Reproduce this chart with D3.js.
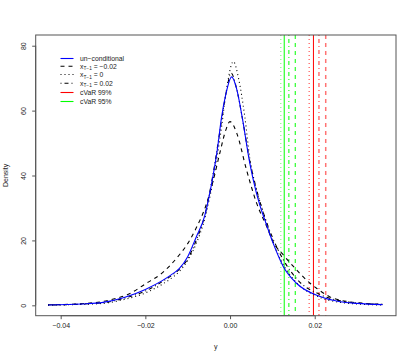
<!DOCTYPE html>
<html>
<head>
<meta charset="utf-8">
<script src="https://cdn.jsdelivr.net/npm/d3@7"></script>
<style>
  body { margin: 0; background: #fff; }
  text { font-family: "Liberation Sans", Arial, sans-serif; fill: #222; }
</style>
</head>
<body>
<div id="chart"></div>
<script>
// density curves: [y value, density]
const unconditional = [
  [-0.043, 0.1], [-0.035, 0.4], [-0.030, 0.9], [-0.025, 2.4], [-0.020, 4.9],
  [-0.016, 7.6], [-0.014, 9.3], [-0.012, 11.3], [-0.010, 15], [-0.008, 21], [-0.006, 27.5],
  [-0.0045, 36.5], [-0.003, 48], [-0.002, 58], [-0.001, 65], [0.0004, 70.4],
  [0.0015, 67], [0.003, 57], [0.0045, 45], [0.0055, 38.6], [0.007, 31],
  [0.0083, 26], [0.0102, 19.1], [0.0126, 11.9], [0.0157, 6.8], [0.0213, 2.7],
  [0.026, 1.1], [0.030, 0.6], [0.036, 0.2]
];
const condNeg = [
  [-0.043, 0.15], [-0.035, 0.5], [-0.030, 1.2], [-0.027, 2.1], [-0.024, 3.4],
  [-0.020, 6.6], [-0.016, 10], [-0.014, 12.5], [-0.012, 15.5], [-0.010, 19],
  [-0.008, 23.8], [-0.0055, 31.5], [-0.004, 38.3], [-0.0024, 47], [-0.001, 54],
  [0.0, 56.6], [0.0016, 53], [0.0039, 41.7], [0.0063, 31.4], [0.0087, 24.2],
  [0.0102, 19.5], [0.0126, 15.5], [0.0153, 11.5], [0.0189, 6.8], [0.0205, 5.2],
  [0.0236, 2.6], [0.028, 1.1], [0.032, 0.6], [0.036, 0.3]
];
const condZero = [
  [-0.043, 0.05], [-0.035, 0.3], [-0.030, 0.6], [-0.025, 1.8], [-0.020, 3.8],
  [-0.016, 6.5], [-0.014, 8.2], [-0.012, 10.4], [-0.010, 13.8], [-0.008, 19], [-0.006, 26.5],
  [-0.004, 38.5], [-0.002, 55], [-0.001, 65], [0.0008, 75.1], [0.002, 70],
  [0.0035, 58], [0.0047, 45], [0.006, 37], [0.008, 28], [0.010, 20],
  [0.0126, 12.5], [0.0157, 7], [0.0213, 2.4], [0.026, 0.9], [0.030, 0.4], [0.036, 0.1]
];
const condPos = [
  [-0.043, 0.1], [-0.035, 0.4], [-0.030, 0.8], [-0.025, 2.2], [-0.020, 4.4],
  [-0.016, 7.3], [-0.014, 9], [-0.012, 11.1], [-0.010, 14.3], [-0.008, 20], [-0.006, 27.5],
  [-0.004, 40.5], [-0.002, 57], [-0.001, 65], [0.0003, 71.5], [0.0015, 67],
  [0.003, 57], [0.0045, 45.5], [0.006, 37], [0.008, 28], [0.010, 21],
  [0.0126, 14], [0.0157, 8.2], [0.0213, 3.3], [0.026, 1.4], [0.030, 0.7], [0.036, 0.3]
];

// cVaR levels, order: unconditional, x=-0.02, x=0, x=0.02
const cvar95 = [0.0128, 0.0154, 0.0120, 0.0139];
const cvar99 = [0.0197, 0.0226, 0.0187, 0.0210];

const xTicks = [-0.04, -0.02, 0, 0.02];
const yTicks = [0, 20, 40, 60, 80];

const W = 415, H = 360;
const plot = { left: 35.7, right: 396, top: 35, bottom: 315.7 };

const svg = d3.select("#chart").append("svg")
  .attr("width", W).attr("height", H);

const x = d3.scaleLinear().domain([-0.0459, 0.0392]).range([plot.left, plot.right]);
const y = d3.scaleLinear().domain([-3.2, 83.3]).range([plot.bottom, plot.top]);

const dashes = { solid: null, dashed: "4,4", dotted: "1,3", dotdash: "1,3,4,3" };
const styles = ["solid", "dashed", "dotted", "dotdash"];

// vertical cVaR lines
cvar95.forEach((v, i) => {
  svg.append("line")
    .attr("x1", x(v)).attr("x2", x(v))
    .attr("y1", plot.top).attr("y2", plot.bottom)
    .attr("stroke", "#00ff00")
    .attr("stroke-opacity", styles[i] == "dotted" ? 0.6 : 1)
    .attr("stroke-width", 1)
    .attr("stroke-dasharray", dashes[styles[i]]);
});
cvar99.forEach((v, i) => {
  svg.append("line")
    .attr("x1", x(v)).attr("x2", x(v))
    .attr("y1", plot.top).attr("y2", plot.bottom)
    .attr("stroke", "#ff0000")
    .attr("stroke-opacity", styles[i] == "solid" ? 1 : 0.55)
    .attr("stroke-width", styles[i] == "solid" ? 1 : 1.5)
    .attr("stroke-dasharray", dashes[styles[i]]);
});

// density curves
const line = d3.line()
  .x(d => x(d[0]))
  .y(d => y(d[1]))
  .curve(d3.curveMonotoneX);

const series = [
  { data: condNeg, color: "#000", dash: dashes.dashed },
  { data: condZero, color: "#000", dash: dashes.dotted },
  { data: condPos, color: "#000", dash: dashes.dotdash },
  { data: unconditional, color: "#0000ff", dash: null }
];
series.forEach(s => {
  svg.append("path")
    .datum(s.data)
    .attr("d", line)
    .attr("fill", "none")
    .attr("stroke", s.color)
    .attr("stroke-width", 1.1)
    .attr("stroke-dasharray", s.dash);
});

// box
svg.append("rect")
  .attr("x", plot.left).attr("y", plot.top)
  .attr("width", plot.right - plot.left)
  .attr("height", plot.bottom - plot.top)
  .attr("fill", "none")
  .attr("stroke", "#555");

// axes
const xAxis = d3.axisBottom(x).tickValues(xTicks).tickSize(3.5).tickPadding(4)
  .tickFormat(d => d3.format(".2f")(d).replace("-", "\u2212"));
const gx = svg.append("g")
  .attr("transform", `translate(0,${plot.bottom})`)
  .call(xAxis);
gx.select(".domain").attr("d", `M${x(-0.04)},0H${x(0.02)}`).attr("stroke", "#555");
gx.selectAll(".tick line").attr("stroke", "#555");
gx.selectAll("text").attr("font-size", 7).attr("fill", "#222")
  .attr("font-family", "Liberation Sans, Arial, sans-serif");

const yAxis = d3.axisLeft(y).tickValues(yTicks).tickSize(3.5).tickPadding(0);
const gy = svg.append("g")
  .attr("transform", `translate(${plot.left},0)`)
  .call(yAxis);
gy.select(".domain").attr("d", `M0,${y(0)}V${y(80)}`).attr("stroke", "#555");
gy.selectAll(".tick line").attr("stroke", "#555");
gy.selectAll("text").remove();
gy.selectAll(".tick").append("text")
  .attr("transform", "translate(-10,0) rotate(-90)")
  .attr("text-anchor", "middle")
  .attr("font-size", 7)
  .attr("fill", "#222")
  .text(d => d);

svg.append("text")
  .attr("x", (plot.left + plot.right) / 2)
  .attr("y", 349)
  .attr("text-anchor", "middle")
  .attr("font-size", 7)
  .text("y");

svg.append("text")
  .attr("transform", `translate(8,${(plot.top + plot.bottom) / 2}) rotate(-90)`)
  .attr("text-anchor", "middle")
  .attr("font-size", 7)
  .text("Density");

// legend
const legendItems = [
  { label: "un\u2212conditional", color: "#0000ff", dash: null, yy: 58.5 },
  { sub: "\u22120.02", color: "#000", dash: dashes.dashed, yy: 66.2 },
  { sub: "0", color: "#000", dash: dashes.dotted, yy: 74.5 },
  { sub: "0.02", color: "#000", dash: dashes.dotdash, yy: 83.3 },
  { label: "cVaR 99%", color: "#ff0000", dash: null, yy: 92.5 },
  { label: "cVaR 95%", color: "#00ff00", dash: null, yy: 101.5 }
];
const legend = svg.append("g");
legendItems.forEach(it => {
  legend.append("line")
    .attr("x1", 60.5).attr("x2", 73.5)
    .attr("y1", it.yy).attr("y2", it.yy)
    .attr("stroke", it.color)
    .attr("stroke-width", 1.1)
    .attr("stroke-dasharray", it.dash);
  const t = legend.append("text")
    .attr("x", 80).attr("y", it.yy + 2.4)
    .attr("font-size", 6.8);
  if (it.label) {
    t.text(it.label);
  } else {
    t.append("tspan").text("x");
    t.append("tspan").attr("font-size", 4.8).attr("dy", 1.6).text("T\u22121");
    t.append("tspan").attr("dy", -1.6).text(" = " + it.sub);
  }
});
</script>
</body>
</html>
